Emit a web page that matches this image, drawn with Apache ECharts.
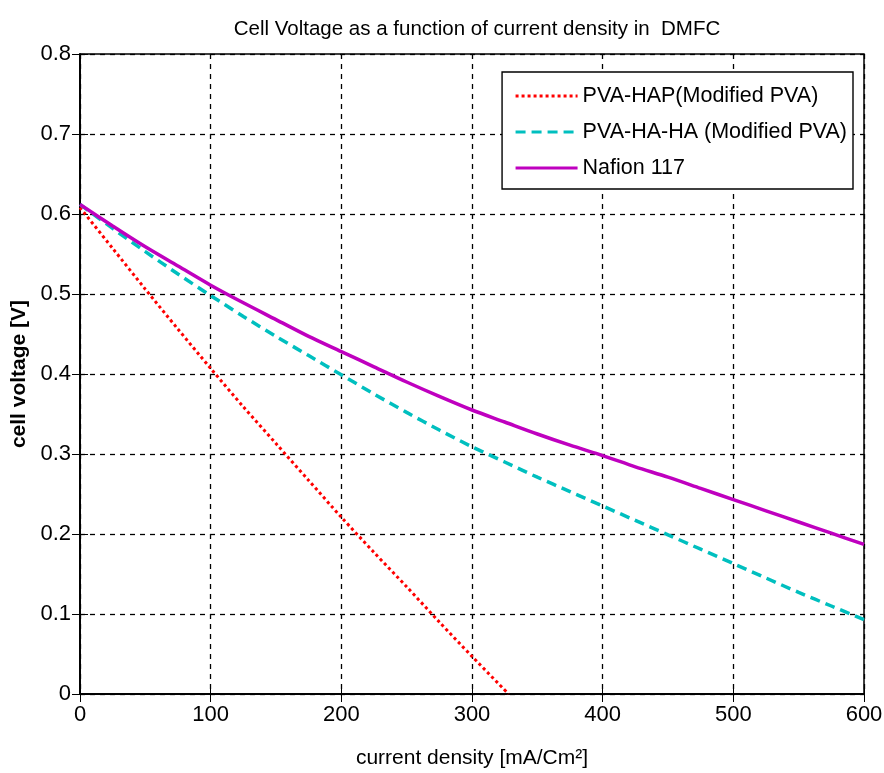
<!DOCTYPE html>
<html>
<head>
<meta charset="utf-8">
<script src="https://cdn.jsdelivr.net/npm/echarts@6/dist/echarts.min.js"></script>
<style>
  html, body { margin: 0; padding: 0; background: #fff; }
  #chart { width: 884px; height: 773px; }
</style>
</head>
<body>
<div id="chart"></div>
<script>
// données
const xTicks = [0, 100, 200, 300, 400, 500, 600];

const seriesNames = ["PVA-HAP(Modified PVA)", "PVA-HA-HA (Modified PVA)", "Nafion 117"];

const hapX = [0, 25, 50, 75, 100, 125, 150, 175, 200, 225, 250, 275, 300, 328];
const hapY = [0.608, 0.557, 0.506, 0.456, 0.407, 0.359, 0.313, 0.267, 0.221, 0.177, 0.134, 0.090, 0.047, 0];

const hahaX = [0, 25, 50, 75, 100, 125, 150, 175, 200, 225, 250, 275, 300, 325, 350, 375, 400, 425, 450, 475, 500, 525, 550, 575, 600];
const hahaY = [0.612, 0.582, 0.553, 0.525, 0.498, 0.472, 0.447, 0.423, 0.399, 0.375, 0.352, 0.330, 0.309,
               0.290, 0.271, 0.253, 0.235, 0.217, 0.199, 0.181, 0.163, 0.145, 0.127, 0.110, 0.093];

const nafionX = [0, 25, 50, 75, 100, 125, 150, 175, 200, 225, 250, 275, 300, 325, 350, 375, 400, 425, 450, 475, 500, 525, 550, 575, 600];
const nafionY = [0.612, 0.585, 0.559, 0.535, 0.511, 0.489, 0.468, 0.447, 0.428, 0.409, 0.390, 0.372, 0.355,
                 0.340, 0.325, 0.311, 0.298, 0.284, 0.271, 0.257, 0.243, 0.229, 0.215, 0.201, 0.187];

const font = "'Liberation Sans Narrow', 'Arial Narrow', 'Liberation Sans', Arial, sans-serif";

function pairs(xs, ys) {
  return xs.map((x, i) => [x, ys[i]]);
}

const chart = echarts.init(document.getElementById("chart"));

const option = {
  animation: false,
  backgroundColor: "#fff",
  title: {
    text: "Cell Voltage as a function of current density in  DMFC",
    left: 472,
    textAlign: "center",
    top: 14,
    textStyle: { fontFamily: font, fontSize: 20.5, fontWeight: "normal", color: "#000" }
  },
  grid: {
    left: 80, top: 54, width: 784, height: 640,
    containLabel: false, outerBoundsMode: "none",
    show: true, borderColor: "#000", borderWidth: 1.5
  },
  legend: {
    right: 31,
    top: 72,
    orient: "vertical",
    itemGap: 14,
    itemWidth: 62,
    itemHeight: 22,
    padding: [13, 6, 10, 12],
    backgroundColor: "#fff",
    borderColor: "#000",
    borderWidth: 1.4,
    borderRadius: 0,
    data: seriesNames,
    itemStyle: { opacity: 0 },
    lineStyle: { width: 3 },
    textStyle: { fontFamily: font, fontSize: 21.5, color: "#000" }
  },
  xAxis: [
    {
      type: "value",
      min: 0,
      max: 600,
      interval: 100,
      name: "current density [mA/Cm²]",
      nameLocation: "middle",
      nameGap: 54,
      nameTextStyle: { fontFamily: font, fontSize: 21, color: "#000" },
      axisLine: { show: true, lineStyle: { color: "#000", width: 1.5 } },
      axisTick: { show: true, inside: true, length: 8, lineStyle: { color: "#000" } },
      axisLabel: {
        fontFamily: font, fontSize: 22, color: "#000", margin: 10,
        formatter: (v) => (xTicks.includes(v) ? String(v) : "")
      },
      splitLine: { show: true, lineStyle: { color: "#000", type: [5, 5], width: 1.3 } }
    },
    {
      type: "value",
      position: "top",
      min: 0,
      max: 600,
      interval: 100,
      axisLine: { show: true, lineStyle: { color: "#000", width: 1.5 } },
      axisTick: { show: true, inside: true, length: 8, lineStyle: { color: "#000" } },
      axisLabel: { show: false },
      splitLine: { show: false }
    }
  ],
  yAxis: [
    {
      type: "value",
      min: 0,
      max: 0.8,
      interval: 0.1,
      name: "cell voltage [V]",
      nameLocation: "middle",
      nameGap: 50,
      nameTextStyle: { fontFamily: "'Liberation Sans', Arial, sans-serif", fontSize: 21, fontWeight: "bold", color: "#000" },
      axisLine: { show: true, lineStyle: { color: "#000", width: 1.5 } },
      axisTick: { show: true, inside: true, length: 8, lineStyle: { color: "#000" } },
      axisLabel: {
        fontFamily: font, fontSize: 22, color: "#000", margin: 9,
        formatter: (v) => {
          const r = Math.round(v * 10) / 10;
          return r === 0 ? "0" : r.toFixed(1);
        }
      },
      splitLine: { show: true, lineStyle: { color: "#000", type: [5, 5], width: 1.3 } }
    },
    {
      type: "value",
      position: "right",
      min: 0,
      max: 0.8,
      interval: 0.1,
      axisLine: { show: true, lineStyle: { color: "#000", width: 1.5 } },
      axisTick: { show: true, inside: true, length: 8, lineStyle: { color: "#000" } },
      axisLabel: { show: false },
      splitLine: { show: false }
    }
  ],
  series: [
    {
      name: seriesNames[0],
      type: "line",
      data: pairs(hapX, hapY),
      symbol: "none",
      smooth: 0.3,
      itemStyle: { color: "#ff0000" },
      lineStyle: { color: "#ff0000", width: 3, type: [3, 3] },
      z: 3
    },
    {
      name: seriesNames[1],
      type: "line",
      data: pairs(hahaX, hahaY),
      symbol: "none",
      smooth: 0.3,
      itemStyle: { color: "#00bfbf" },
      lineStyle: { color: "#00bfbf", width: 3.5, type: [10, 6] },
      z: 3
    },
    {
      name: seriesNames[2],
      type: "line",
      data: pairs(nafionX, nafionY),
      symbol: "none",
      smooth: 0.3,
      itemStyle: { color: "#bf00bf" },
      lineStyle: { color: "#bf00bf", width: 3.5 },
      z: 4
    }
  ]
};

chart.setOption(option);
</script>
</body>
</html>
